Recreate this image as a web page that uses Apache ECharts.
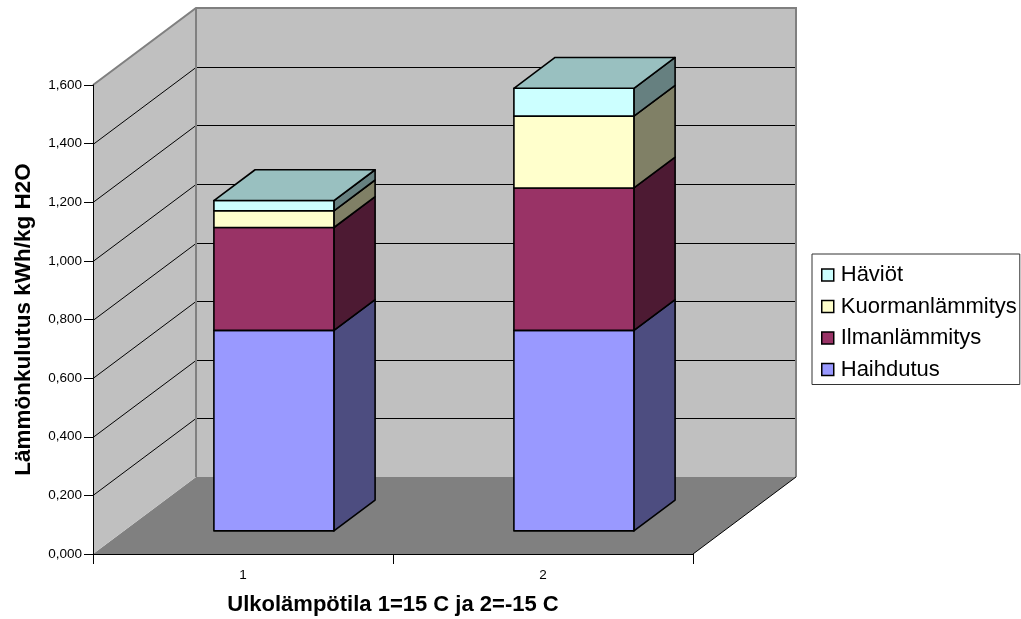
<!DOCTYPE html>
<html>
<head>
<meta charset="utf-8">
<script src="https://cdn.jsdelivr.net/npm/echarts@6/dist/echarts.min.js"></script>
<style>
html, body { margin: 0; padding: 0; background: #fff; }
#chart { width: 1021px; height: 619px; }
</style>
</head>
<body>
<div id="chart"></div>
<script>
var categories = ['1', '2'];
var haihdutus = [0.684, 0.684];
var ilmanlammitys = [0.351, 0.486];
var kuormanlammitys = [0.057, 0.245];
var haviot = [0.035, 0.095];
var yTicks = [0, 0.2, 0.4, 0.6, 0.8, 1.0, 1.2, 1.4, 1.6];

var seriesNames = ['Haihdutus', 'Ilmanlämmitys', 'Kuormanlämmitys', 'Häviöt'];
var seriesValues = [haihdutus, ilmanlammitys, kuormanlammitys, haviot];
var frontColors = ['#9999ff', '#993366', '#ffffcc', '#ccffff'];
var sideColors = ['#4d4d80', '#4d1a33', '#808066', '#668080'];
var topColor = '#99c0c0';
var FONT = '"Liberation Sans", Arial, sans-serif';

// 3d depth of the chart box in pixels, bars sit between 0.3 and 0.7 of it
var DX = 103, DY = -77;
var BAR_FRONT = 0.3, BAR_DEPTH = 0.4, BAR_WIDTH = 0.4;

var chart = echarts.init(document.getElementById('chart'));

function line(x1, y1, x2, y2, color, width) {
	return { type: 'line', shape: { x1: x1, y1: y1, x2: x2, y2: y2 }, style: { stroke: color, lineWidth: width } };
}

// walls, floor and grid lines
function renderWalls(params, api) {
	var cs = params.coordSys;
	var left = cs.x, right = cs.x + cs.width;
	var y0 = api.coord([0, yTicks[0]])[1];
	var yTop = api.coord([0, yTicks[yTicks.length - 1]])[1];
	var children = [];
	children.push({ type: 'polygon', shape: { points: [[left, y0], [right, y0], [right + DX, y0 + DY], [left + DX, y0 + DY]] }, style: { fill: '#808080' } });
	children.push({ type: 'polygon', shape: { points: [[left, y0], [left, yTop], [left + DX, yTop + DY], [left + DX, y0 + DY]] }, style: { fill: '#c0c0c0' } });
	children.push({ type: 'rect', shape: { x: left + DX, y: yTop + DY, width: right - left, height: y0 - yTop }, style: { fill: '#c0c0c0' } });
	for (var i = 1; i < yTicks.length - 1; i++) {
		var y = Math.round(api.coord([0, yTicks[i]])[1]) + 0.5;
		children.push(line(left, y, left + DX, y + DY, '#000', 1));
		children.push(line(left + DX, y + DY, right + DX, y + DY, '#000', 1));
	}
	children.push({ type: 'polyline', shape: { points: [[left, yTop], [left + DX, yTop + DY], [right + DX, yTop + DY], [right + DX, y0 + DY]] }, style: { stroke: '#808080', lineWidth: 2, fill: null } });
	children.push(line(left + DX, yTop + DY, left + DX, y0 + DY, '#808080', 2));
	children.push(line(right, y0, right + DX, y0 + DY, '#000', 1));
	return { type: 'group', children: children };
}

function barRenderer(sIdx) {
	return function (params, api) {
		var cat = api.value(0), base = api.value(1), val = api.value(2);
		var p0 = api.coord([cat, base]);
		var p1 = api.coord([cat, base + val]);
		var w = api.size([1, 0])[0] * BAR_WIDTH;
		var dx = DX * BAR_DEPTH, dy = DY * BAR_DEPTH;
		var x0 = p0[0] + DX * BAR_FRONT - w / 2, x1 = x0 + w;
		var yb = p0[1] + DY * BAR_FRONT, yt = p1[1] + DY * BAR_FRONT;
		var st = { stroke: '#000', lineWidth: 1.6, lineJoin: 'round' };
		var children = [
			{ type: 'polygon', shape: { points: [[x1, yb], [x1 + dx, yb + dy], [x1 + dx, yt + dy], [x1, yt]] }, style: Object.assign({ fill: sideColors[sIdx] }, st) },
			{ type: 'rect', shape: { x: x0, y: yt, width: w, height: yb - yt }, style: Object.assign({ fill: frontColors[sIdx] }, st) }
		];
		if (sIdx === seriesValues.length - 1) {
			children.push({ type: 'polygon', shape: { points: [[x0, yt], [x1, yt], [x1 + dx, yt + dy], [x0 + dx, yt + dy]] }, style: Object.assign({ fill: topColor }, st) });
		}
		return { type: 'group', children: children };
	};
}

var series = [{
	type: 'custom',
	name: 'walls',
	silent: true,
	z: 1,
	clip: false,
	renderItem: renderWalls,
	data: [[0, 0]]
}];

var bases = categories.map(function () { return 0; });
seriesValues.forEach(function (vals, sIdx) {
	series.push({
		type: 'custom',
		name: seriesNames[sIdx],
		z: 2,
		clip: false,
		itemStyle: { color: frontColors[sIdx] },
		renderItem: barRenderer(sIdx),
		data: vals.map(function (v, i) { return [i, bases[i], v]; })
	});
	vals.forEach(function (v, i) { bases[i] += v; });
});

chart.setOption({
	backgroundColor: '#fff',
	animation: false,
	grid: { left: 93, right: 328, top: 85, bottom: 65, containLabel: false, outerBoundsMode: 'none' },
	legend: {
		data: ['Häviöt', 'Kuormanlämmitys', 'Ilmanlämmitys', 'Haihdutus'],
		orient: 'vertical',
		left: 812,
		top: 254,
		padding: [10, 3, 4, 9],
		itemGap: 9.5,
		itemWidth: 12,
		itemHeight: 12,
		icon: 'rect',
		itemStyle: { borderColor: '#000', borderWidth: 1.5 },
		borderColor: '#333',
		borderWidth: 1,
		textStyle: { color: '#000', fontSize: 22, fontFamily: FONT, padding: [0, 0, 0, 2] },
		selectedMode: false
	},
	xAxis: {
		type: 'category',
		data: categories,
		z: 3,
		axisLine: { lineStyle: { color: '#000', width: 1 } },
		axisTick: { show: true, length: 10, lineStyle: { color: '#000' } },
		axisLabel: { color: '#000', fontSize: 13.5, margin: 14, fontFamily: FONT },
		name: 'Ulkolämpötila 1=15 C ja 2=-15 C',
		nameLocation: 'middle',
		nameGap: 40,
		nameTextStyle: { color: '#000', fontSize: 22, fontWeight: 'bold', fontFamily: FONT }
	},
	yAxis: {
		type: 'value',
		min: 0,
		max: 1.6,
		interval: 0.2,
		z: 3,
		axisLine: { show: true, lineStyle: { color: '#000', width: 1 } },
		axisTick: { show: true, length: 9, lineStyle: { color: '#000' } },
		splitLine: { show: false },
		axisLabel: {
			color: '#000', fontSize: 13.5, margin: 11, fontFamily: FONT,
			formatter: function (v) { return v.toFixed(3).replace('.', ','); }
		},
		name: 'Lämmönkulutus kWh/kg H2O',
		nameLocation: 'middle',
		nameGap: 58,
		nameTextStyle: { color: '#000', fontSize: 22.5, fontWeight: 'bold', fontFamily: FONT }
	},
	series: series
});
</script>
</body>
</html>
